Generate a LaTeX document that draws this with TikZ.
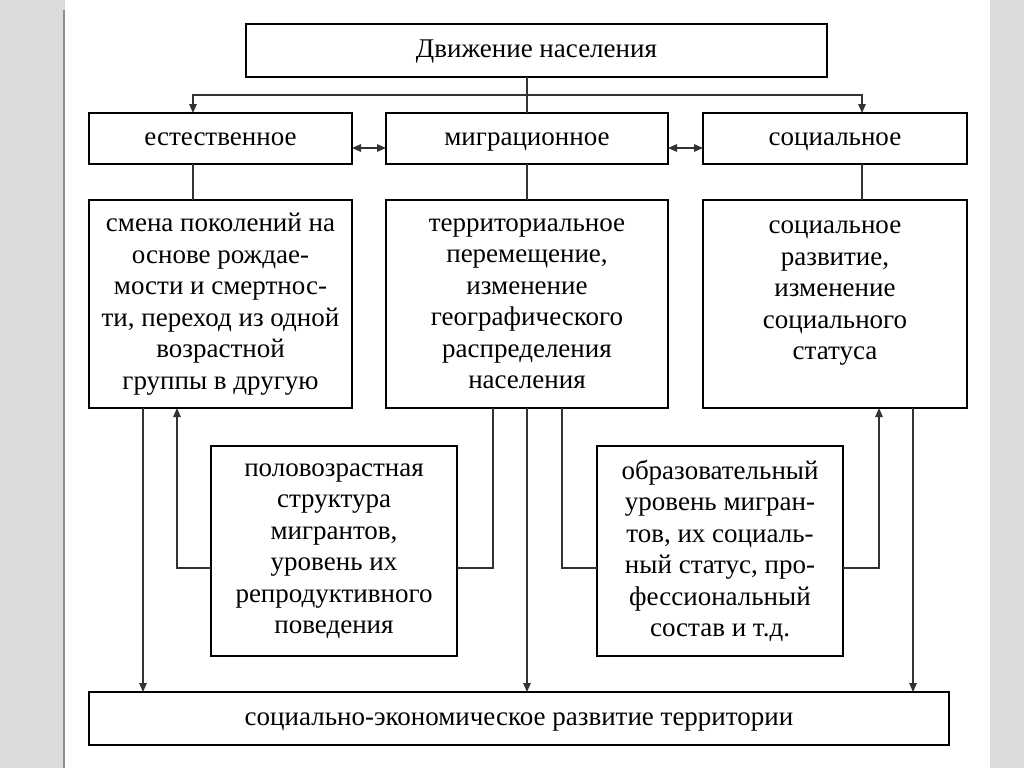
\documentclass[tikz,border=0pt]{standalone}
\usepackage{fontspec}
\setmainfont{Liberation Serif}
\usetikzlibrary{arrows.meta,calc}
\definecolor{bgray}{HTML}{DADBDB}
\definecolor{edgegray}{HTML}{8C8C8C}
\definecolor{linegray}{HTML}{333333}
\begin{document}
\begin{tikzpicture}[x=1pt,y=-1pt,
  box/.style={draw=black,line width=2pt,fill=white,inner sep=0pt,outer sep=0pt,
    align=center,font=\fontsize{27}{31.5}\selectfont,text=black},
  one/.style={text height=19pt,text depth=6pt},
  boxtext/.style={inner sep=0pt,outer sep=0pt,align=center,
    font=\fontsize{27}{31.5}\selectfont,text=black},
  con/.style={draw=linegray,line width=1.4pt},
  arr/.style={con,-{Triangle[length=9pt,width=7.5pt]}},
  darr/.style={con,{Triangle[length=9pt,width=7.5pt]}-{Triangle[length=9pt,width=7.5pt]}}]
\useasboundingbox (0,0) rectangle (1024,768);
\fill[bgray] (0,0) rectangle (1024,768);
\fill[white] (65,0) rectangle (990,768);
\draw[edgegray,line width=2pt] (64,10) -- (64,768);

% row 1
\node[box,one,minimum width=581pt,minimum height=53pt] (tb) at (536.5,50.5) {Движение населения};
% row 2
\node[box,one,minimum width=263pt,minimum height=51pt] (est) at (220.5,138.5) {естественное};
\node[box,one,minimum width=282pt,minimum height=51pt] (mig) at (527,138.5) {миграционное};
\node[box,one,minimum width=264pt,minimum height=51pt] (soc) at (835,138.5) {социальное};
% row 3
\node[box,minimum width=263pt,minimum height=208pt] (e3) at (220.5,304)
  {смена поколений на\\основе рождае-\\мости и смертнос-\\ти, переход из одной\\возрастной\\группы в другую};
\node[box,minimum width=282pt,minimum height=208pt] (m3) at (527,304)
  {территориальное\\перемещение,\\изменение\\географического\\распределения\\населения};
\node[box,minimum width=264pt,minimum height=208pt] (s3) at (835,304) {};
\node[boxtext,anchor=north] (s3t) at ($(s3.north)+(0,21)$)
  {социальное\\развитие,\\изменение\\социального\\статуса};
% row 4
\node[box,minimum width=246pt,minimum height=210pt] (p1) at (334,551)
  {половозрастная\\структура\\мигрантов,\\уровень их\\репродуктивного\\поведения};
\node[box,minimum width=246pt,minimum height=210pt] (p2) at (720,551)
  {образовательный\\уровень мигран-\\тов, их социаль-\\ный статус, про-\\фессиональный\\состав и т.д.};
% bottom
\node[box,one,minimum width=860pt,minimum height=53pt] (bot) at (519,718.5)
  {социально-экономическое развитие территории};

% helper coordinates
\coordinate (hb) at (0,95);
\coordinate (yd) at (0,148);
\coordinate (yh) at (0,568);
\coordinate (c1) at (143,0);
\coordinate (c2) at (177,0);
\coordinate (c3) at (193,0);
\coordinate (c4) at (493,0);
\coordinate (c6) at (562,0);
\coordinate (c7) at (862,0);
\coordinate (c8) at (879,0);
\coordinate (c9) at (913,0);

% connectors
\draw[con] (tb.south -| mig.north) -- (mig.north);
\draw[arr] (hb -| mig.north) -| (est.north -| c3);
\draw[arr] (hb -| mig.north) -| (soc.north -| c7);
\draw[darr] (est.east |- yd) -- (mig.west |- yd);
\draw[darr] (mig.east |- yd) -- (soc.west |- yd);
\draw[con] (est.south -| c3) -- (e3.north -| c3);
\draw[con] (mig.south) -- (m3.north);
\draw[con] (soc.south -| c7) -- (s3.north -| c7);
\draw[arr] (e3.south -| c1) -- (bot.north -| c1);
\draw[arr] (p1.west |- yh) -| (e3.south -| c2);
\draw[con] (m3.south -| c4) |- (p1.east |- yh);
\draw[arr] (m3.south) -- (bot.north -| m3.south);
\draw[con] (m3.south -| c6) |- (p2.west |- yh);
\draw[arr] (p2.east |- yh) -| (s3.south -| c8);
\draw[arr] (s3.south -| c9) -- (bot.north -| c9);
\end{tikzpicture}
\end{document}
